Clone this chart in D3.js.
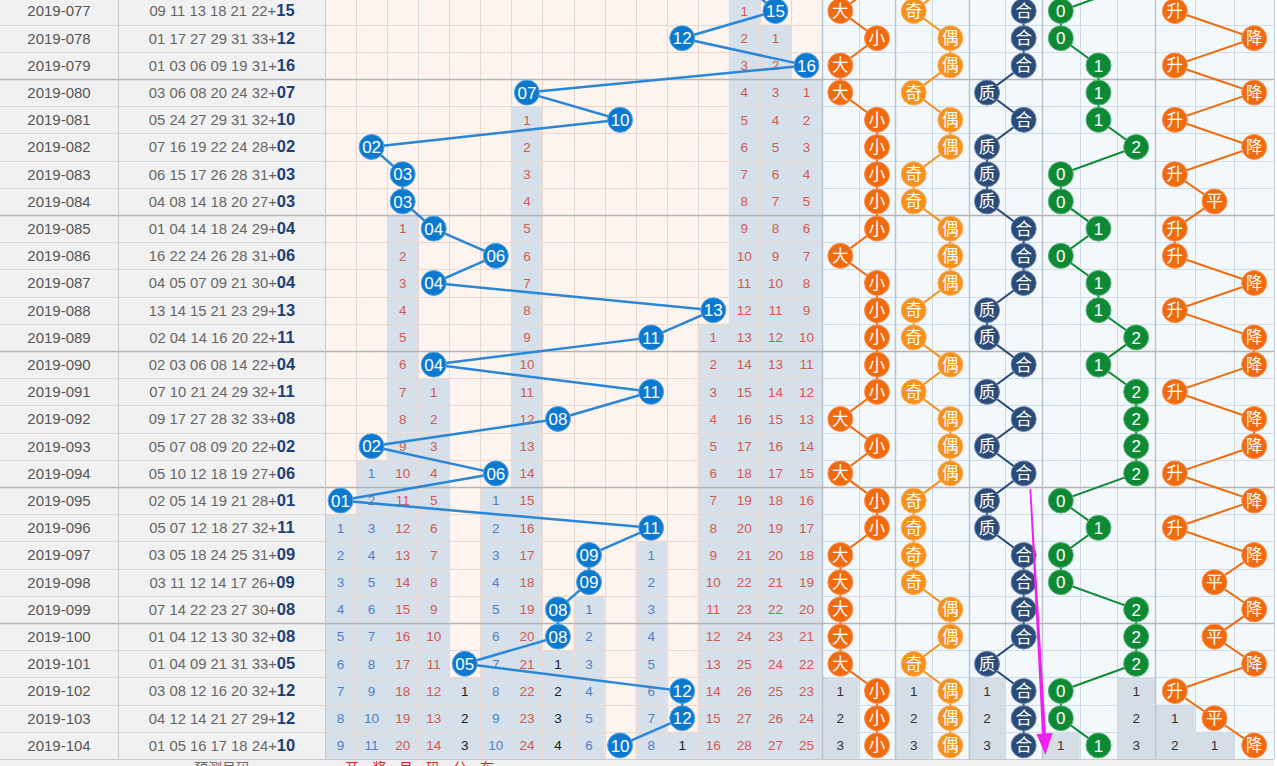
<!DOCTYPE html>
<html><head><meta charset="utf-8">
<script src="https://cdn.jsdelivr.net/npm/d3@7/dist/d3.min.js"></script>
<style>html,body{margin:0;padding:0;background:#fff;overflow:hidden}</style>
</head><body><svg id="c" width="1277" height="766"></svg>
<script>
// ---------------- data ----------------
const periods = ["2019-077","2019-078","2019-079","2019-080","2019-081","2019-082","2019-083","2019-084","2019-085","2019-086","2019-087","2019-088","2019-089","2019-090","2019-091","2019-092","2019-093","2019-094","2019-095","2019-096","2019-097","2019-098","2019-099","2019-100","2019-101","2019-102","2019-103","2019-104"];
const redBalls = ["09 11 13 18 21 22","01 17 27 29 31 33","01 03 06 09 19 31","03 06 08 20 24 32","05 24 27 29 31 32","07 16 19 22 24 28","06 15 17 26 28 31","04 08 14 18 20 27","01 04 14 18 24 29","16 22 24 26 28 31","04 05 07 09 21 30","13 14 15 21 23 29","02 04 14 16 20 22","02 03 06 08 14 22","07 10 21 24 29 32","09 17 27 28 32 33","05 07 08 09 20 22","05 10 12 18 19 27","02 05 14 19 21 28","05 07 12 18 27 32","03 05 18 24 25 31","03 11 12 14 17 26","07 14 22 23 27 30","01 04 12 13 30 32","01 04 09 21 31 33","03 08 12 16 20 32","04 12 14 21 27 29","01 05 16 17 18 24"];
const blueBalls = [15,12,16,7,10,2,3,3,4,6,4,13,11,4,11,8,2,6,1,11,9,9,8,8,5,12,12,10];
const prevBlue = 14; // 2019-076 (row above the visible window)
const ballLabels = ["01","02","03","04","05","06","07","08","09","10","11","12","13","14","15","16"];

const sizeLabels = ["大","小"];
const parityLabels = ["奇","偶"];
const primeLabels = ["质","合"];
const modLabels = ["0","1","2"];
const trendLabels = ["升","平","降"];

const sizeSeq   = Array.from("大小大大小"+"小小小小大"+"小小小小小"+"大小大小小"+"大大大大大"+"小小小");
const paritySeq = Array.from("奇偶偶奇偶"+"偶奇奇偶偶"+"偶奇奇偶奇"+"偶偶偶奇奇"+"奇奇偶偶奇"+"偶偶偶");
const primeSeq  = Array.from("合合合质合"+"质质质合合"+"合质质合质"+"合质合质质"+"合合合合质"+"合合合");
const modSeq    = Array.from("00111"+"20010"+"11212"+"22201"+"00222"+"001");
const trendSeq  = Array.from("升降升降升"+"降升平升升"+"降升降降升"+"降降升降升"+"降平降平降"+"升平降");
const prevCats = {size:"小", parity:"偶", prime:"合", mod:"2", trend:null};

const footerGray = "预测号码";
const footerRed = ["开","奖","号","码","分","布"];

// ---------------- layout ----------------
const W = 1277, H = 766;
const svg = d3.select("#c");
const y = d3.scaleBand().domain(periods).range([-2.6, 759]);
const bh = y.bandwidth();
const yc = p => y(p) + bh / 2;
const yPrev = yc(periods[0]) - bh;
const xBall = d3.scaleBand().domain(ballLabels).range([325, 822]);
const bw = xBall.bandwidth();
const cw = 220 / 6;
const groups = [
  {key:"size",   labels:sizeLabels,   seq:sizeSeq,   range:[822, 822+2*cw],        color:"#f26a0e", stroke:"#f7955a"},
  {key:"parity", labels:parityLabels, seq:paritySeq, range:[822+2*cw, 822+4*cw],   color:"#f7901c", stroke:"#fab468"},
  {key:"prime",  labels:primeLabels,  seq:primeSeq,  range:[822+4*cw, 1042],       color:"#2c4b76", stroke:"#6d87aa"},
  {key:"mod",    labels:modLabels,    seq:modSeq,    range:[1042, 1155],           color:"#0f8a34", stroke:"#5cb37a"},
  {key:"trend",  labels:trendLabels,  seq:trendSeq,  range:[1155, 1274],           color:"#f26a0e", stroke:"#f7955a"}
];
groups.forEach(g => { g.x = d3.scaleBand().domain(g.labels).range(g.range); });

const fontNum = "'Liberation Sans', Arial, sans-serif";
const fontCJK = "'Noto Sans CJK SC', sans-serif";

// ---------------- backgrounds ----------------
svg.append("rect").attr("x",0).attr("y",0).attr("width",W).attr("height",H).attr("fill","#ffffff");
svg.append("rect").attr("x",0).attr("y",0).attr("width",325).attr("height",759).attr("fill","#f1f1f1");
svg.append("rect").attr("x",325).attr("y",0).attr("width",497).attr("height",759).attr("fill","#fdf4ef");
svg.append("rect").attr("x",822).attr("y",0).attr("width",452).attr("height",759).attr("fill","#f3f8fc");

// omission layering (trailing miss counts after last occurrence)
function trailing(seqWithPrev, labels) {
  const out = [];
  labels.forEach(lab => {
    let last = -1;
    seqWithPrev.forEach((v, i) => { if (v === lab) last = i; });
    for (let i = Math.max(last + 1, 1); i < seqWithPrev.length; i++) {
      out.push({row: i - 1, label: lab, count: i - last, total: seqWithPrev.length - 1 - last});
    }
  });
  return out;
}
const blueLabelsSeq = [prevBlue, ...blueBalls].map(d => String(d).padStart(2, "0"));
const ballMiss = trailing(blueLabelsSeq, ballLabels);

svg.append("g").selectAll("rect").data(ballMiss).join("rect")
  .attr("x", d => xBall(d.label)).attr("y", d => y(periods[d.row]))
  .attr("width", bw).attr("height", bh).attr("fill", "#d6e0ea");

const rightMiss = [];
groups.forEach(g => {
  const seq = [prevCats[g.key] ? prevCats[g.key] : "?", ...g.seq];
  trailing(seq, g.labels).forEach(d => rightMiss.push({...d, g}));
});
svg.append("g").selectAll("rect").data(rightMiss).join("rect")
  .attr("x", d => d.g.x(d.label)).attr("y", d => y(periods[d.row]))
  .attr("width", d => d.g.x.bandwidth()).attr("height", bh).attr("fill", "#d5dde6");

// ---------------- grid ----------------
const grid = svg.append("g");
periods.forEach((p, i) => {
  const yy = Math.round(y(p) + bh) + 0.5;
  grid.append("line").attr("x1",0).attr("x2",325).attr("y1",yy).attr("y2",yy).attr("stroke","#dadada");
  grid.append("line").attr("x1",325).attr("x2",822).attr("y1",yy).attr("y2",yy).attr("stroke","#ead7cf");
  grid.append("line").attr("x1",822).attr("x2",1274).attr("y1",yy).attr("y2",yy).attr("stroke","#d2dce7");
});
ballLabels.forEach((b, i) => {
  if (i === 0) return;
  const xx = Math.round(xBall(b)) + 0.5;
  grid.append("line").attr("x1",xx).attr("x2",xx).attr("y1",0).attr("y2",759).attr("stroke","#ecd6cf");
});
groups.forEach((g, gi) => {
  g.labels.forEach((l, i) => {
    const xx = Math.round(g.x(l)) + 0.5;
    const sep = i === 0;
    grid.append("line").attr("x1",xx).attr("x2",xx).attr("y1",0).attr("y2",759)
      .attr("stroke", sep ? "#b9c4d0" : "#cfd9e4").attr("stroke-width", sep ? 1.5 : 1);
  });
});
grid.append("line").attr("x1",1274.5).attr("x2",1274.5).attr("y1",0).attr("y2",759).attr("stroke","#c9d3de");
periods.forEach((p, i) => {
  if (i % 5 === 3) {
    const yy = Math.round(y(p)) + 0.5;
    grid.append("line").attr("x1",0).attr("x2",1274).attr("y1",yy).attr("y2",yy).attr("stroke","#b5b5b5").attr("stroke-width",1.5);
  }
});
grid.append("line").attr("x1",118.5).attr("x2",118.5).attr("y1",0).attr("y2",766).attr("stroke","#c8c8c8");
grid.append("line").attr("x1",325.5).attr("x2",325.5).attr("y1",0).attr("y2",759).attr("stroke","#c8c8c8");

// ---------------- left text ----------------
const left = svg.append("g");
left.selectAll("text.per").data(periods).join("text").attr("class","per")
  .attr("x", 59).attr("y", d => yc(d)).attr("dy","0.36em").attr("text-anchor","middle")
  .attr("font-family", fontNum).attr("font-size", 15).attr("fill","#555").text(d => d);
const nums = left.selectAll("text.num").data(periods).join("text").attr("class","num")
  .attr("x", 222).attr("y", d => yc(d)).attr("dy","0.36em").attr("text-anchor","middle")
  .attr("font-family", fontNum).attr("font-size", 14.8);
nums.append("tspan").attr("fill","#666").text((d,i) => redBalls[i] + "+");
nums.append("tspan").attr("fill","#1d3f77").attr("font-weight","bold").attr("font-size",16.5)
  .text((d,i) => String(blueBalls[i]).padStart(2,"0"));

// omission numbers
function missColor(total) { return total <= 4 ? "#222" : (total <= 12 ? "#4e7fc8" : "#d35a4f"); }
svg.append("g").selectAll("text").data(ballMiss).join("text")
  .attr("x", d => xBall(d.label) + bw/2).attr("y", d => yc(periods[d.row])).attr("dy","0.36em")
  .attr("text-anchor","middle").attr("font-family", fontNum).attr("font-size", 13.5)
  .attr("fill", d => missColor(d.total)).text(d => d.count);
svg.append("g").selectAll("text").data(rightMiss).join("text")
  .attr("x", d => d.g.x(d.label) + d.g.x.bandwidth()/2).attr("y", d => yc(periods[d.row])).attr("dy","0.36em")
  .attr("text-anchor","middle").attr("font-family", fontNum).attr("font-size", 13.5)
  .attr("fill", "#333").text(d => d.count);

// ---------------- connecting lines ----------------
const bluePts = [{x: xBall(String(prevBlue).padStart(2,"0")) + bw/2, y: yPrev}]
  .concat(blueBalls.map((b,i) => ({x: xBall(String(b).padStart(2,"0")) + bw/2, y: yc(periods[i])})));
svg.append("path").attr("d", d3.line().x(d=>d.x).y(d=>d.y)(bluePts))
  .attr("fill","none").attr("stroke","#2a86d6").attr("stroke-width",2.5);

groups.forEach(g => {
  const pts = g.seq.map((v,i) => ({x: g.x(v) + g.x.bandwidth()/2, y: yc(periods[i])}));
  const pv = prevCats[g.key];
  if (pv) pts.unshift({x: g.x(pv) + g.x.bandwidth()/2, y: yPrev});
  svg.append("path").attr("d", d3.line().x(d=>d.x).y(d=>d.y)(pts))
    .attr("fill","none").attr("stroke", g.color).attr("stroke-width",2);
});

// ---------------- balls ----------------
const bb = svg.append("g").selectAll("g").data(blueBalls).join("g")
  .attr("transform", (b,i) => `translate(${xBall(String(b).padStart(2,"0")) + bw/2},${yc(periods[i])})`);
bb.append("circle").attr("r", 12.5).attr("fill","#0b79cf").attr("stroke","#5aa6e2").attr("stroke-width",1);
bb.append("text").attr("text-anchor","middle").attr("dy","0.36em").attr("font-family", fontNum)
  .attr("font-size", 17).attr("fill","#fff").text(b => String(b).padStart(2,"0"));

groups.forEach(g => {
  const gg = svg.append("g").selectAll("g").data(g.seq).join("g")
    .attr("transform", (v,i) => `translate(${g.x(v) + g.x.bandwidth()/2},${yc(periods[i])})`);
  gg.append("circle").attr("r", 12.5).attr("fill", g.color).attr("stroke", g.stroke).attr("stroke-width",1);
  gg.append("text").attr("text-anchor","middle").attr("dy","0.36em")
    .attr("font-family", g.key === "mod" ? fontNum : fontCJK)
    .attr("font-size", g.key === "mod" ? 17 : 16.5).attr("fill","#fff").text(v => v);
});

// ---------------- annotation arrow ----------------
const arrow = svg.append("g");
arrow.append("path").attr("d","M1029.5,489 L1031.2,489 L1046.2,738 L1042.2,738 Z").attr("fill","#f020f0");
arrow.append("path").attr("d","M1036.5,734 L1052.5,733 L1045.5,755 Z").attr("fill","#f020f0");

// ---------------- footer strip ----------------
svg.append("rect").attr("x",0).attr("y",759).attr("width",1274).attr("height",7).attr("fill","#f0f0f0");
svg.append("line").attr("x1",0).attr("x2",1274).attr("y1",759.5).attr("y2",759.5).attr("stroke","#c8c8c8");
svg.append("text").attr("x",222).attr("y",773).attr("text-anchor","middle").attr("font-family",fontCJK)
  .attr("font-size",14).attr("fill","#666").text(footerGray);
svg.append("g").selectAll("text").data(footerRed).join("text")
  .attr("x",(d,i) => 352 + i*27).attr("y",773).attr("text-anchor","middle").attr("font-family",fontCJK)
  .attr("font-size",14).attr("fill","#e02020").text(d => d);
</script></body></html>
